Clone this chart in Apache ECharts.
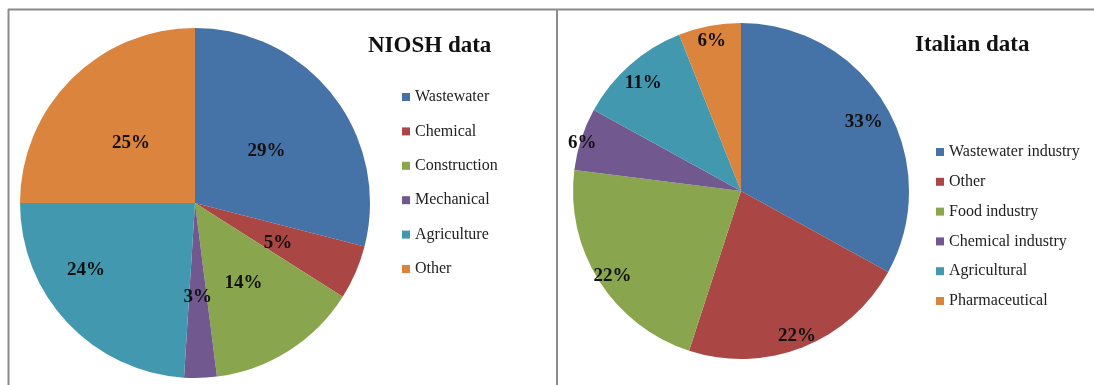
<!DOCTYPE html>
<html>
<head>
<meta charset="utf-8">
<style>
  html, body { margin: 0; padding: 0; background: #fff; }
  #chart { width: 1094px; height: 385px; }
</style>
<script src="https://cdn.jsdelivr.net/npm/echarts@6/dist/echarts.min.js"></script>
</head>
<body>
<div id="chart"></div>
<script>
// NIOSH data
const nioshCategories = ['Wastewater', 'Chemical', 'Construction', 'Mechanical', 'Agriculture', 'Other'];
const nioshValues = [29, 5, 14, 3, 24, 25];

// Italian data
const italianCategories = ['Wastewater industry', 'Other', 'Food industry', 'Chemical industry', 'Agricultural', 'Pharmaceutical'];
const italianValues = [33, 22, 22, 6, 11, 6];

const palette = ['#4572A7', '#AA4643', '#89A54E', '#71588F', '#4198AF', '#DB843D'];

// Layout of the two pies
const leftPie = { center: [195, 203], radius: 175 };
const rightPie = { center: [741, 191], radius: 168 };
// Radial position of each label, as a fraction of the radius, plus small pixel nudges
const leftLabelRadius = [0.5, 0.5, 0.5, 0.5, 0.5, 0.5];
const leftLabelNudge = [[0, 4], [0, 4], [0, 4], [0, 4], [-43, 5], [0, 4]];
const rightLabelRadius = [0.82, 0.875, 0.875, 0.96, 0.85, 0.9];
const rightLabelNudge = [[0, 4], [0, 4], [0, 4], [0, 4], [0, 3], [0, 4]];

function makeData(names, values) {
  return names.map((n, i) => ({ name: n, value: values[i], itemStyle: { color: palette[i] } }));
}

function labelMover(pie, factors, nudges) {
  return function (params) {
    const r = params.labelRect;
    const lx = r.x + r.width / 2;
    const ly = r.y + r.height / 2;
    const k = factors[params.dataIndex] / 0.5 - 1;
    const n = nudges[params.dataIndex];
    return {
      dx: (lx - pie.center[0]) * k + n[0],
      dy: (ly - pie.center[1]) * k + n[1]
    };
  };
}

const serif = '"Liberation Serif", "Times New Roman", serif';

const labelStyle = {
  show: true,
  position: 'inside',
  formatter: '{c}%',
  fontFamily: serif,
  fontWeight: 'bold',
  fontSize: 19,
  color: '#111'
};

const legendText = (size) => ({ fontFamily: serif, fontSize: size, color: '#222' });

const chart = echarts.init(document.getElementById('chart'), null, { renderer: 'canvas' });

chart.setOption({
  backgroundColor: '#fff',
  animation: false,
  title: [
    {
      text: 'NIOSH data',
      left: 363, top: 30,
      textStyle: { fontFamily: serif, fontWeight: 'bold', fontSize: 23, color: '#111' }
    },
    {
      text: 'Italian data',
      left: 910, top: 29,
      textStyle: { fontFamily: serif, fontWeight: 'bold', fontSize: 23, color: '#111' }
    }
  ],
  legend: [
    {
      orient: 'vertical',
      left: 397, top: 84,
      icon: 'rect', itemWidth: 8, itemHeight: 8, itemGap: 18.4,
      textStyle: legendText(16),
      selectedMode: false,
      data: nioshCategories.map((n, i) => ({ name: n, itemStyle: { color: palette[i] } }))
    },
    {
      orient: 'vertical',
      left: 931, top: 139,
      icon: 'rect', itemWidth: 8, itemHeight: 8, itemGap: 13.8,
      textStyle: legendText(16),
      selectedMode: false,
      data: italianCategories.map((n, i) => ({ name: n, itemStyle: { color: palette[i] } }))
    }
  ],
  graphic: [
    { type: 'line', shape: { x1: 8, y1: 9.5, x2: 1094, y2: 9.5 }, style: { stroke: '#8a8a8a', lineWidth: 2 } },
    { type: 'line', shape: { x1: 8.5, y1: 9, x2: 8.5, y2: 385 }, style: { stroke: '#8a8a8a', lineWidth: 2 } },
    { type: 'line', shape: { x1: 557, y1: 9, x2: 557, y2: 385 }, style: { stroke: '#8a8a8a', lineWidth: 2 } }
  ],
  series: [
    {
      type: 'pie',
      center: leftPie.center,
      radius: [0, leftPie.radius],
      startAngle: 90,
      clockwise: true,
      silent: true,
      itemStyle: { borderWidth: 0 },
      label: labelStyle,
      labelLine: { show: false },
      labelLayout: labelMover(leftPie, leftLabelRadius, leftLabelNudge),
      data: makeData(nioshCategories, nioshValues)
    },
    {
      type: 'pie',
      center: rightPie.center,
      radius: [0, rightPie.radius],
      startAngle: 90,
      clockwise: true,
      silent: true,
      itemStyle: { borderWidth: 0 },
      label: labelStyle,
      labelLine: { show: false },
      labelLayout: labelMover(rightPie, rightLabelRadius, rightLabelNudge),
      data: makeData(italianCategories, italianValues)
    }
  ]
});
</script>
</body>
</html>
